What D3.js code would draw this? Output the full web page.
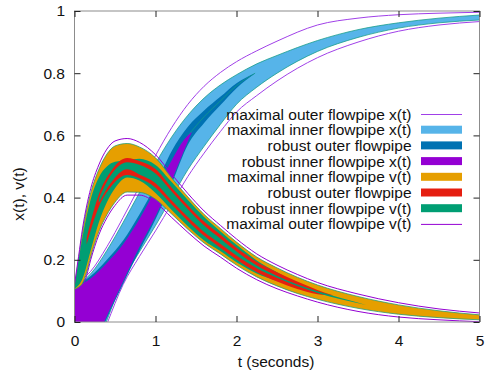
<!DOCTYPE html>
<html><head><meta charset="utf-8">
<script src="https://cdn.jsdelivr.net/npm/d3@7"></script>
<style>
body{margin:0;background:#fff}
text{font-family:"Liberation Sans",Arial,Helvetica,sans-serif}
</style>
</head><body><svg id="c" width="485" height="371"></svg>
<script>
// ---------- data ----------
const xTicks = [0, 1, 2, 3, 4, 5];
const yTicks = [0, 0.2, 0.4, 0.6, 0.8, 1];
const yTickLabels = ["0", "0.2", "0.4", "0.6", "0.8", "1"];

// position x(t)
const tX      = [0, 0.2, 0.4, 0.6, 0.8, 1.0, 1.2, 1.4, 1.6, 1.8, 2.0, 2.25, 2.5, 3.0, 3.5, 4.0, 4.5, 5.0];
const xOutHi  = [0.12, 0.163, 0.242, 0.336, 0.435, 0.535, 0.625, 0.70, 0.758, 0.802, 0.837, 0.872, 0.903, 0.955, 0.977, 0.988, 0.993, 0.996];
const xOutLo  = [-0.31, -0.15, -0.007, 0.12, 0.21, 0.293, 0.38, 0.468, 0.543, 0.612, 0.675, 0.728, 0.775, 0.85, 0.9, 0.935, 0.955, 0.966];
const xInHi   = [0.115, 0.155, 0.23, 0.32, 0.415, 0.51, 0.595, 0.665, 0.72, 0.762, 0.795, 0.83, 0.857, 0.905, 0.94, 0.962, 0.977, 0.987];
const xInLo   = [-0.3, -0.14, 0.005, 0.135, 0.225, 0.31, 0.40, 0.49, 0.565, 0.635, 0.70, 0.755, 0.80, 0.87, 0.915, 0.945, 0.962, 0.971];
const tXRo    = [0, 0.2, 0.4, 0.6, 0.8, 1.0, 1.2, 1.4, 1.6, 1.8, 2.0, 2.23];
const xRoLo   = [-0.21, -0.11, 0.012, 0.122, 0.228, 0.33, 0.445, 0.57, 0.64, 0.697, 0.752, 0.80];
const xRoHi   = [0.116, 0.148, 0.2, 0.262, 0.345, 0.44, 0.55, 0.628, 0.68, 0.724, 0.768, 0.80];
const tXRi    = [0, 0.2, 0.4, 0.6, 0.8, 1.0, 1.2, 1.35, 1.45];
const xRiLo   = [-0.2, -0.1, 0.02, 0.13, 0.24, 0.34, 0.455, 0.55, 0.612];
const xRiHi   = [0.11, 0.14, 0.19, 0.25, 0.33, 0.425, 0.52, 0.585, 0.612];

// velocity v(t)
const tV      = [0, 0.05, 0.1, 0.15, 0.2, 0.3, 0.4, 0.5, 0.65, 0.8, 1.0, 1.2, 1.4, 1.6, 1.8, 2.0, 2.25, 2.5, 2.75, 3.0, 3.5, 4.0, 4.5, 5.0];
const vOutHi  = [0.12, 0.21, 0.302, 0.373, 0.429, 0.505, 0.556, 0.582, 0.59, 0.578, 0.538, 0.475, 0.413, 0.357, 0.311, 0.267, 0.219, 0.183, 0.153, 0.127, 0.09, 0.062, 0.042, 0.029];
const vOutLo  = [0.1, 0.105, 0.115, 0.15, 0.2, 0.28, 0.335, 0.375, 0.408, 0.408, 0.384, 0.336, 0.288, 0.244, 0.209, 0.173, 0.136, 0.107, 0.084, 0.064, 0.034, 0.016, 0.007, 0.001];
const vInHi   = [0.115, 0.2, 0.29, 0.36, 0.415, 0.49, 0.54, 0.566, 0.574, 0.563, 0.528, 0.463, 0.402, 0.346, 0.301, 0.257, 0.209, 0.174, 0.144, 0.119, 0.082, 0.055, 0.036, 0.023];
const vInLo   = [0.105, 0.112, 0.125, 0.16, 0.21, 0.29, 0.345, 0.385, 0.418, 0.417, 0.395, 0.347, 0.298, 0.254, 0.219, 0.183, 0.145, 0.116, 0.092, 0.073, 0.044, 0.025, 0.014, 0.007];
// robust outer v(t)
const tVRo    = [0.15, 0.3, 0.45, 0.65, 0.8, 1.0, 1.2, 1.4, 1.6, 1.8, 2.0, 2.25, 2.5, 2.75, 3.0, 3.2];
const vRoHi   = [0.27, 0.41, 0.485, 0.5275, 0.518, 0.492, 0.432, 0.375, 0.323, 0.281, 0.239, 0.194, 0.16, 0.13, 0.103, 0.085];
const vRoLo   = [0.25, 0.37, 0.435, 0.4725, 0.462, 0.432, 0.378, 0.325, 0.277, 0.239, 0.201, 0.16, 0.13, 0.106, 0.089, 0.085];
// robust inner v(t): wide part and narrow core
const tVRiW   = [0, 0.1, 0.2, 0.3, 0.4, 0.5, 0.65, 0.8, 1.0, 1.2, 1.4, 1.6, 1.8, 2.0, 2.25, 2.5, 2.75, 3.0];
const vRiWHi  = [0.113, 0.275, 0.395, 0.465, 0.5, 0.515, 0.52, 0.525, 0.505, 0.45, 0.392, 0.338, 0.292, 0.248, 0.198, 0.16, 0.125, 0.098];
const vRiWLo  = [0.107, 0.14, 0.23, 0.32, 0.385, 0.43, 0.465, 0.455, 0.415, 0.36, 0.308, 0.262, 0.228, 0.192, 0.156, 0.132, 0.112, 0.095];
const tVRiC   = [0.3, 0.45, 0.65, 0.8, 1.0, 1.2, 1.4, 1.6, 1.8, 2.0, 2.25, 2.5, 2.75, 3.0, 3.3, 3.6];
const vRiCHi  = [0.3975, 0.4725, 0.5134, 0.5055, 0.4775, 0.4195, 0.3625, 0.3105, 0.2685, 0.2265, 0.1815, 0.148, 0.1205, 0.0985, 0.076, 0.055];
const vRiCLo  = [0.3825, 0.4475, 0.491, 0.4745, 0.4465, 0.3905, 0.3375, 0.2895, 0.2515, 0.2135, 0.1725, 0.142, 0.1155, 0.0935, 0.072, 0.055];

const legendLabels = [
  "maximal outer flowpipe x(t)", "maximal inner flowpipe x(t)", "robust outer flowpipe",
  "robust inner flowpipe x(t)", "maximal inner flowpipe v(t)", "robust outer flowpipe",
  "robust inner flowpipe v(t)", "maximal outer flowpipe v(t)"];
const legendKinds  = ["line", "box", "box", "box", "box", "box", "box", "line"];
const legendColors = ["#a040e8", "#56b4e9", "#0072b2", "#9400d3", "#e69f00", "#e51e10", "#009e73", "#9400d3"];

// ---------- drawing ----------
const W = 485, H = 371;
const L = 74.5, R = 479.5, T = 11, B = 322;
const svg = d3.select("#c");
svg.append("rect").attr("width", W).attr("height", H).attr("fill", "#fff");
const x = d3.scaleLinear().domain([0, 5]).range([L, R]);
const y = d3.scaleLinear().domain([0, 1]).range([B, T]);

svg.append("defs").append("clipPath").attr("id", "clip")
  .append("rect").attr("x", L).attr("y", T).attr("width", R - L).attr("height", B - T);
const g = svg.append("g").attr("clip-path", "url(#clip)");

const zip = (ts, lo, hi) => ts.map((t, i) => ({t, lo: lo[i], hi: hi[i]}));
const area = d3.area().x(d => x(d.t)).y0(d => y(d.lo)).y1(d => y(d.hi)).curve(d3.curveMonotoneX);
const lineHi = d3.line().x(d => x(d.t)).y(d => y(d.hi)).curve(d3.curveMonotoneX);
const lineLo = d3.line().x(d => x(d.t)).y(d => y(d.lo)).curve(d3.curveMonotoneX);
const lineMid = d3.line().x(d => x(d.t)).y(d => y((d.lo + d.hi) / 2)).curve(d3.curveMonotoneX);

function band(data, fill, edge) {
  g.append("path").datum(data).attr("d", area).attr("fill", fill).attr("stroke", "none");
  if (edge) {
    g.append("path").datum(data).attr("d", lineHi).attr("fill", "none").attr("stroke", edge).attr("stroke-width", 0.8);
    g.append("path").datum(data).attr("d", lineLo).attr("fill", "none").attr("stroke", edge).attr("stroke-width", 0.8);
  }
}
function outer(data, color) {
  g.append("path").datum(data).attr("d", lineHi).attr("fill", "none").attr("stroke", color).attr("stroke-width", 1);
  g.append("path").datum(data).attr("d", lineLo).attr("fill", "none").attr("stroke", color).attr("stroke-width", 1);
}

outer(zip(tX, xOutLo, xOutHi), legendColors[0]);
band(zip(tX, xInLo, xInHi), legendColors[1], "#1b9e8c");
const ro = zip(tXRo, xRoLo, xRoHi);
band(ro, legendColors[2]);
g.append("path").datum(ro.filter(d => d.t >= 1.4)).attr("d", lineMid)
  .attr("fill", "none").attr("stroke", "#11998a").attr("stroke-width", 0.8);
band(zip(tXRi, xRiLo, xRiHi), legendColors[3]);
band(zip(tV, vInLo, vInHi), legendColors[4], "#2a9d6e");
band(zip(tVRiW, vRiWLo, vRiWHi), legendColors[6]);
band(zip(tVRo, vRoLo, vRoHi), legendColors[5]);
band(zip(tVRiC, vRiCLo, vRiCHi), legendColors[6]);
outer(zip(tV, vOutLo, vOutHi), legendColors[7]);

// frame & ticks
svg.append("rect").attr("x", L).attr("y", T).attr("width", R - L).attr("height", B - T)
  .attr("fill", "none").attr("stroke", "#8c8c8c").attr("stroke-width", 1);

const axB = svg.append("g").attr("transform", `translate(0,${B})`)
  .call(d3.axisBottom(x).tickValues(xTicks).tickFormat(d3.format("d")).tickSizeInner(-6).tickSizeOuter(0).tickPadding(13));
const axT = svg.append("g").attr("transform", `translate(0,${T})`)
  .call(d3.axisTop(x).tickValues(xTicks).tickFormat("").tickSizeInner(-6).tickSizeOuter(0));
const axL = svg.append("g").attr("transform", `translate(${L},0)`)
  .call(d3.axisLeft(y).tickValues(yTicks).tickFormat((d, i) => yTickLabels[i]).tickSizeInner(-6).tickSizeOuter(0).tickPadding(9.5));
const axR = svg.append("g").attr("transform", `translate(${R},0)`)
  .call(d3.axisRight(y).tickValues(yTicks).tickFormat("").tickSizeInner(-6).tickSizeOuter(0));
[axB, axT, axL, axR].forEach(a => {
  a.select(".domain").remove();
  a.selectAll(".tick line").attr("stroke", "#222").attr("stroke-width", 1);
  a.selectAll("text").attr("font-size", 15.5).attr("fill", "#111")
    .attr("font-family", '"Liberation Sans",Arial,sans-serif');
});

// axis titles
svg.append("text").attr("x", 276).attr("y", 367).attr("text-anchor", "middle")
  .attr("font-size", 15.5).attr("fill", "#111").text("t (seconds)");
svg.append("text").attr("transform", "translate(24,194) rotate(-90)").attr("text-anchor", "middle")
  .attr("font-size", 15.5).attr("fill", "#111").text("x(t), v(t)");

// legend
const lg = svg.append("g");
legendLabels.forEach((lab, i) => {
  const cy = 114 + i * 15.7;
  lg.append("text").attr("x", 411.5).attr("y", cy + 5.5).attr("text-anchor", "end")
    .attr("font-size", 15.5).attr("fill", "#111").text(lab);
  if (legendKinds[i] === "line") {
    lg.append("line").attr("x1", 421).attr("x2", 462).attr("y1", cy + 0.5).attr("y2", cy + 0.5)
      .attr("stroke", legendColors[i]).attr("stroke-width", 1);
  } else {
    lg.append("rect").attr("x", 421).attr("y", cy - 4).attr("width", 41).attr("height", 8)
      .attr("fill", legendColors[i]);
  }
});
</script></body></html>
